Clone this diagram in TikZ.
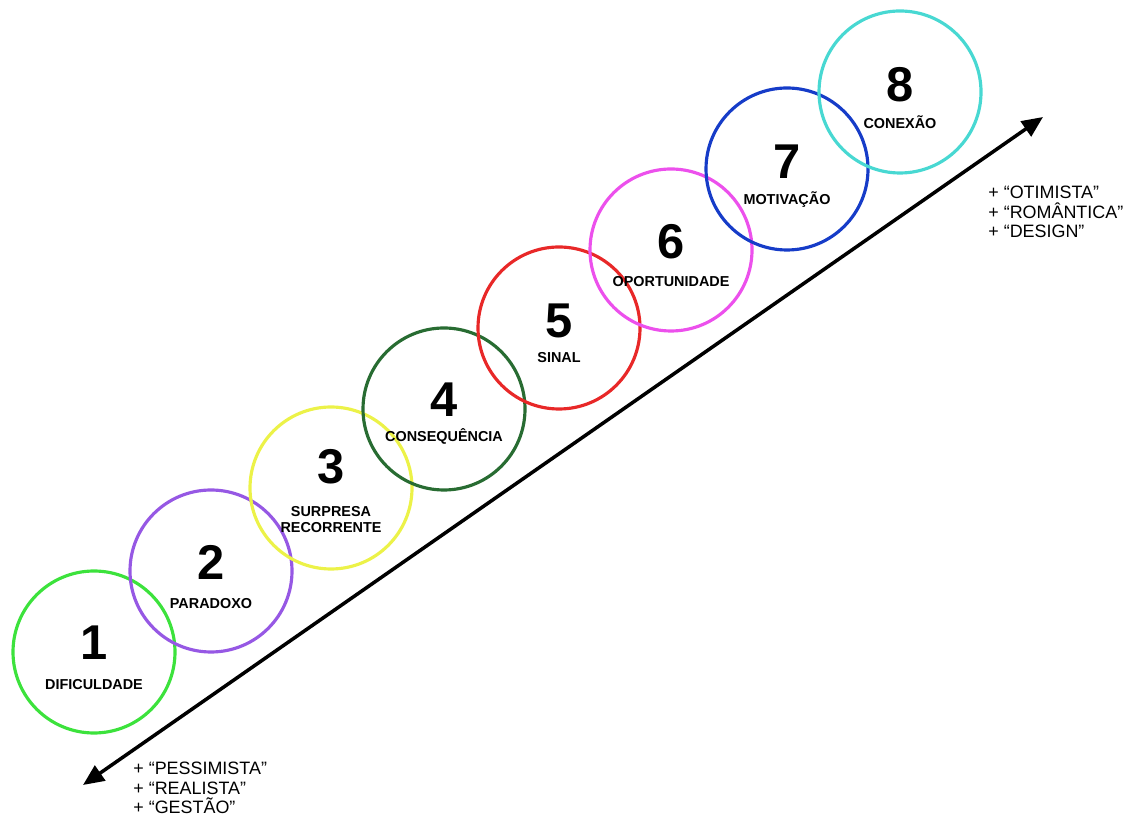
\documentclass[tikz,border=0pt]{standalone}
\usepackage{fontspec}
\setmainfont{Liberation Sans}
\usepackage{xcolor}
\usetikzlibrary{arrows.meta}

\definecolor{ringA}{RGB}{60,226,60}
\definecolor{ringB}{RGB}{150,88,228}
\definecolor{ringC}{RGB}{236,242,72}
\definecolor{ringD}{RGB}{40,108,50}
\definecolor{ringE}{RGB}{232,40,40}
\definecolor{ringF}{RGB}{236,80,236}
\definecolor{ringG}{RGB}{22,60,200}
\definecolor{ringH}{RGB}{72,216,210}

\tikzset{
  ring/.style={circle, draw=#1, line width=1.8pt, minimum size=3.24cm, inner sep=0pt},
  num/.style={font=\bfseries\fontsize{27.8}{30}\selectfont, inner sep=0pt},
  lbl/.style={font=\bfseries\fontsize{8.2}{9.1}\selectfont, align=center, inner sep=0pt},
  note/.style={font=\fontsize{10.2}{11.1}\selectfont, align=left, anchor=west, inner sep=0pt},
  axis/.style={line width=2pt, >={Triangle[length=0.42cm, width=0.36cm]}, <->}
}

\begin{document}
\begin{tikzpicture}
\useasboundingbox (0,0) rectangle (22.7,16.4);

    % main axis
    \coordinate (lo) at (1.66, 0.70);
    \coordinate (hi) at (20.86, 14.06);
    \draw[axis] (lo) -- (hi);

    % the eight rings
    \node[ring=ringA] (c1) at (1.88, 3.36) {};
    \node[ring=ringB] (c2) at (4.22, 4.98) {};
    \node[ring=ringC] (c3) at (6.62, 6.64) {};
    \node[ring=ringD] (c4) at (8.88, 8.22) {};
    \node[ring=ringE] (c5) at (11.18, 9.84) {};
    \node[ring=ringF] (c6) at (13.42, 11.40) {};
    \node[ring=ringG] (c7) at (15.74, 13.02) {};
    \node[ring=ringH] (c8) at (18.00, 14.56) {};

        \node[num, yshift=0.18cm] (n1) at (c1) {1};
        \node[num, yshift=0.18cm] (n2) at (c2) {2};
        \node[num, yshift=0.42cm] (n3) at (c3) {3};
        \node[num, yshift=0.18cm] (n4) at (c4) {4};
        \node[num, yshift=0.14cm] (n5) at (c5) {5};
        \node[num, yshift=0.16cm] (n6) at (c6) {6};
        \node[num, yshift=0.14cm] (n7) at (c7) {7};
        \node[num, yshift=0.14cm] (n8) at (c8) {8};

        \node[lbl, anchor=base, yshift=-0.76cm] (l1) at (c1) {DIFICULDADE};
        \node[lbl, anchor=base, yshift=-0.76cm] (l2) at (c2) {PARADOXO};
        \node[lbl, yshift=-0.64cm] (l3) at (c3) {SURPRESA\\RECORRENTE};
        \node[lbl, anchor=base, yshift=-0.66cm] (l4) at (c4) {CONSEQUÊNCIA};
        \node[lbl, anchor=base, yshift=-0.70cm] (l5) at (c5) {SINAL};
        \node[lbl, anchor=base, yshift=-0.74cm] (l6) at (c6) {OPORTUNIDADE};
        \node[lbl, anchor=base, yshift=-0.72cm] (l7) at (c7) {MOTIVAÇÃO};
        \node[lbl, anchor=base, yshift=-0.74cm] (l8) at (c8) {CONEXÃO};

    % the two ends of the axis
    \node[note] (low) at (2.66, 0.64) {+ “PESSIMISTA”\\+ “REALISTA”\\+ “GESTÃO”};
    \node[note] (high) at (19.76, 12.16) {+ “OTIMISTA”\\+ “ROMÂNTICA”\\+ “DESIGN”};

\end{tikzpicture}
\end{document}
